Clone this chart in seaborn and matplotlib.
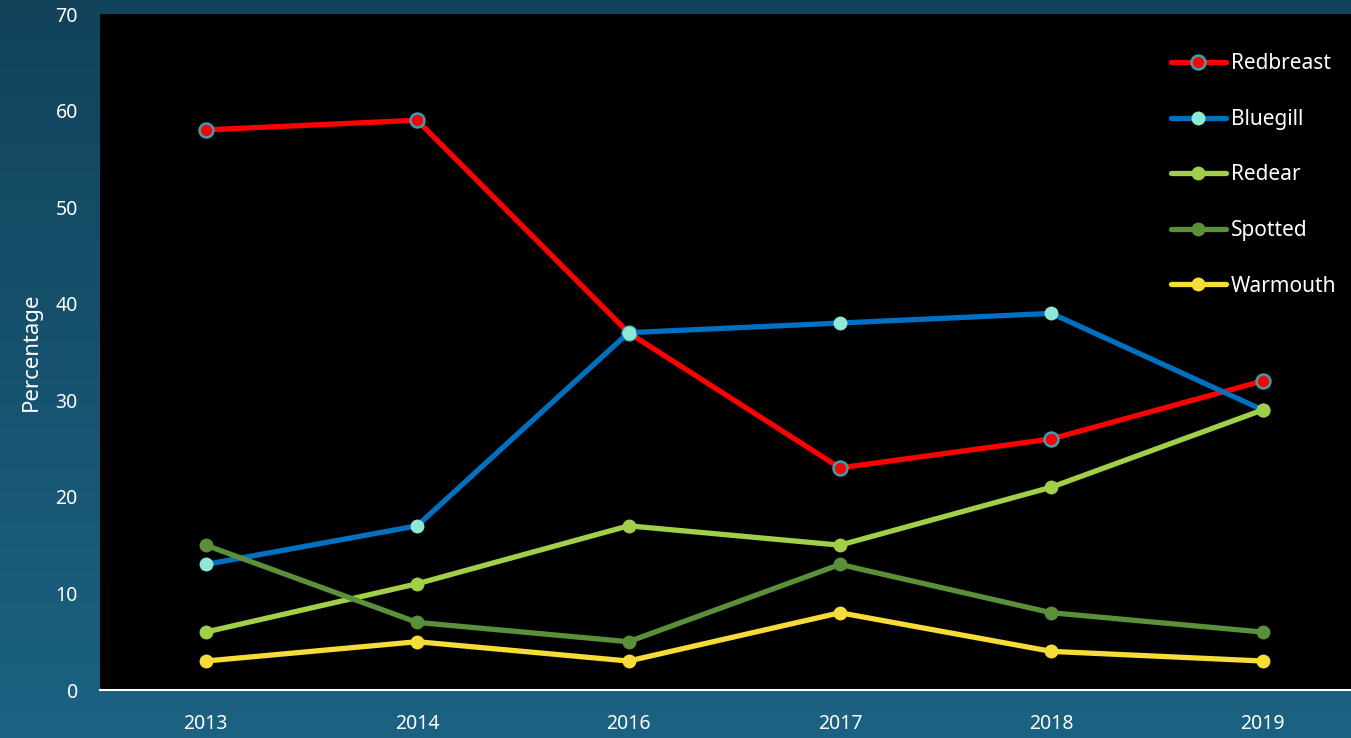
import numpy as np
import pandas as pd
import matplotlib
matplotlib.use("Agg")
import matplotlib.pyplot as plt
from matplotlib.colors import LinearSegmentedColormap
import seaborn as sns

years = ["2013", "2014", "2016", "2017", "2018", "2019"]
redbreast = [58, 59, 37, 23, 26, 32]
bluegill = [13, 17, 37, 38, 39, 29]
redear = [6, 11, 17, 15, 21, 29]
spotted = [15, 7, 5, 13, 8, 6]
warmouth = [3, 5, 3, 8, 4, 3]
series_names = ["Redbreast", "Bluegill", "Redear", "Spotted", "Warmouth"]
y_ticks = [0, 10, 20, 30, 40, 50, 60, 70]

sns.set_theme(style="white")
plt.rcParams['font.family'] = ['Noto Sans', 'DejaVu Sans']

fig = plt.figure(figsize=(13.51, 7.38), dpi=100)

# gradient background
bg = fig.add_axes([0, 0, 1, 1], zorder=-10)
cmap = LinearSegmentedColormap.from_list("bg", ["#11435b", "#1c6282"])
grad = np.linspace(0, 1, 256).reshape(-1, 1)
bg.imshow(grad, aspect="auto", cmap=cmap, extent=[0, 1, 0, 1], origin="upper")
bg.set_axis_off()

ax_left = 100 / 1351
ax_bottom = (738 - 690) / 738
ax_top = (738 - 14) / 738
ax_right = 1368.5 / 1351
ax = fig.add_axes([ax_left, ax_bottom, ax_right - ax_left, ax_top - ax_bottom])
ax.set_facecolor("black")

styles = {
    "Redbreast": dict(color="#ff0000", mfc="#ff0000", mec="#3aa0b0"),
    "Bluegill": dict(color="#0070c0", mfc="#8ee8d8", mec="#8ee8d8"),
    "Redear": dict(color="#a2cf48", mfc="#a2cf48", mec="#a2cf48"),
    "Spotted": dict(color="#5b8f3a", mfc="#5b8f3a", mec="#5b8f3a"),
    "Warmouth": dict(color="#f5dc38", mfc="#f5dc38", mec="#f5dc38"),
}
data = [redbreast, bluegill, redear, spotted, warmouth]

df = pd.DataFrame({"Year": years * len(series_names),
                   "Value": sum(data, []),
                   "Species": sum([[n] * len(years) for n in series_names], [])})

for name in series_names:
    st = styles[name]
    sub = df[df["Species"] == name]
    sns.lineplot(data=sub, x="Year", y="Value", ax=ax, color=st["color"],
                 linewidth=3.8, marker="o", markersize=10,
                 markerfacecolor=st["mfc"], markeredgecolor=st["mec"],
                 markeredgewidth=1.8 if name == "Redbreast" else 0,
                 label=name, sort=False)

ax.set_xlim(-0.5, 5.5)
ax.set_ylim(0, 70)
ax.set_yticks(y_ticks)
ax.set_yticklabels([str(t) for t in y_ticks])
ax.tick_params(axis="both", colors="white", labelsize=14, length=0)
ax.tick_params(axis="x", pad=17)
ax.tick_params(axis="y", pad=16)
for s in ["top", "right", "left"]:
    ax.spines[s].set_visible(False)
ax.spines["bottom"].set_color("white")
ax.spines["bottom"].set_linewidth(1.5)
ax.grid(False)
ax.set_xlabel("")
ax.set_ylabel("")
fig.text(31 / 1351, 1 - 352 / 738, "Percentage", rotation=90, color="white",
         fontsize=16, ha="center", va="center")

leg = ax.legend(loc="upper left", bbox_to_anchor=((1163 - 100) / 1268.5, 1 - 31 / 676),
                frameon=False, fontsize=15, labelcolor="white", handlelength=2.6,
                handletextpad=0.25, labelspacing=1.66, borderaxespad=0)

fig.savefig("out.png", dpi=100)
